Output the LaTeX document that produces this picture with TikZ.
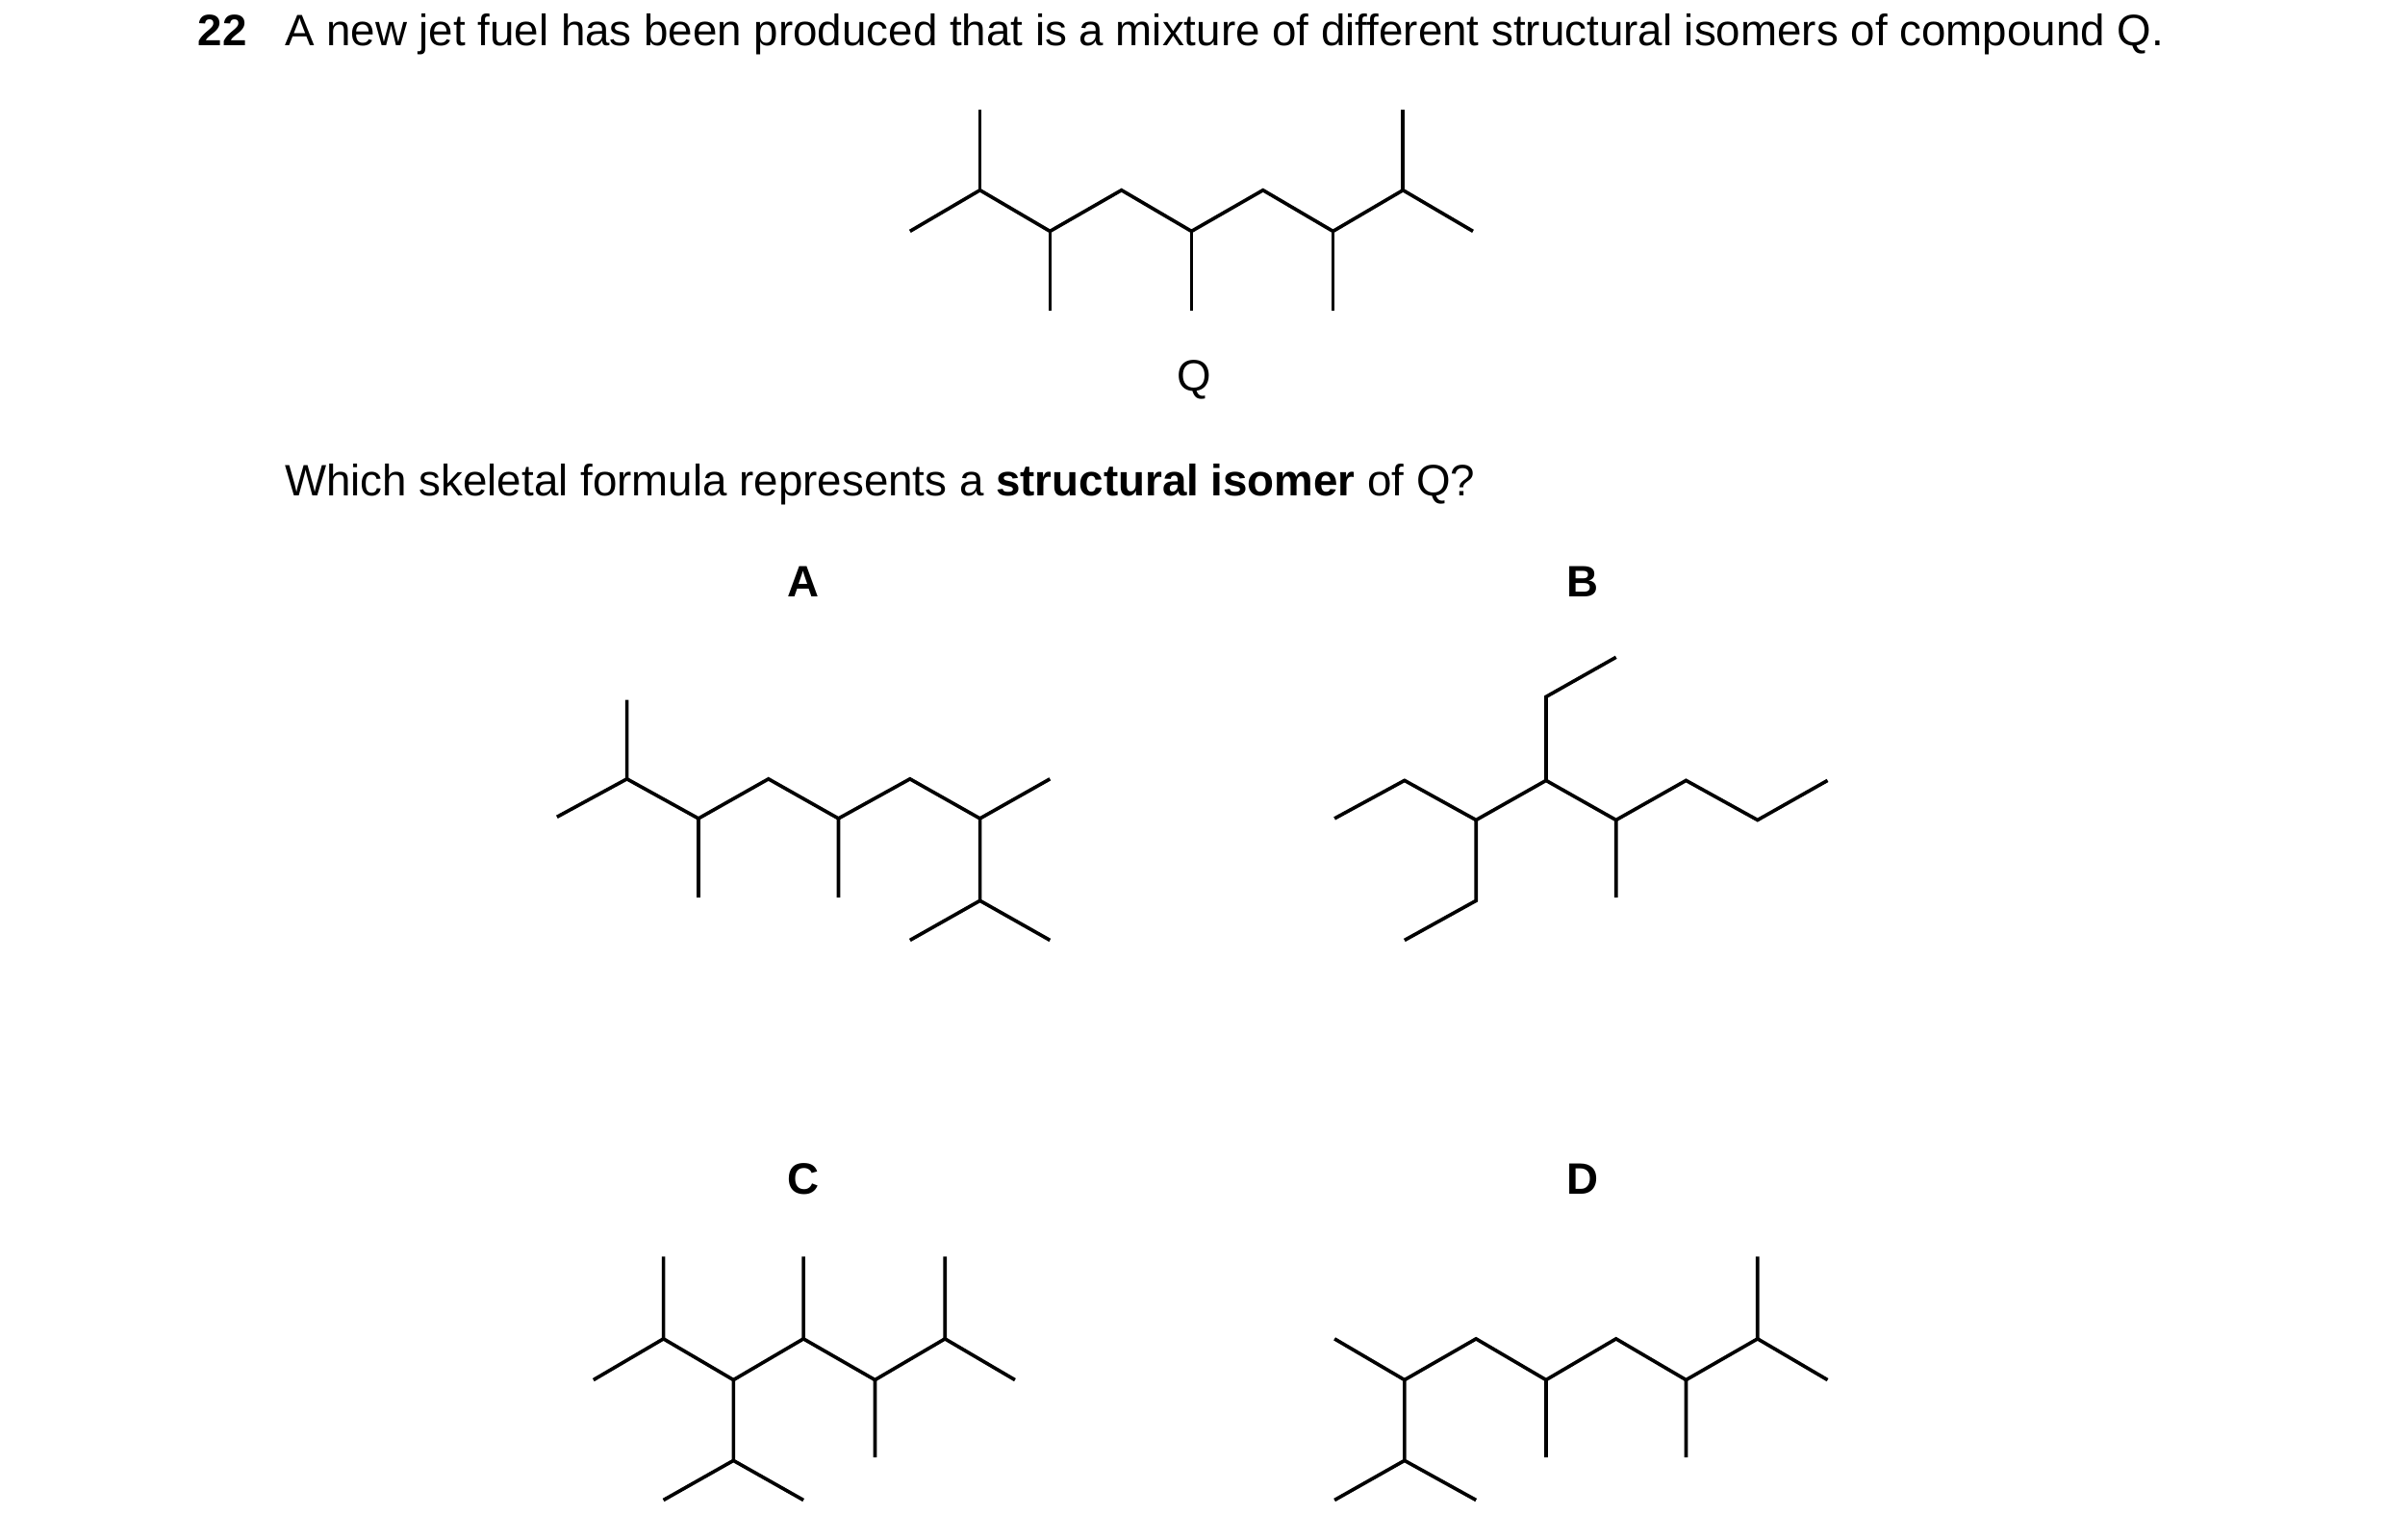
\documentclass[tikz,border=0pt]{standalone}
\usepackage{fontspec}
\setmainfont{Liberation Sans}
\begin{document}
\begin{tikzpicture}[x=1pt,y=-1pt,bond/.style={line width=2.3pt,line join=miter},
 txt/.style={anchor=base west,inner sep=0pt,font=\fontsize{28.9}{32}\selectfont},
 lab/.style={anchor=base,inner sep=0pt,font=\fontsize{28.9}{32}\selectfont\bfseries}]
\useasboundingbox (0,0) rectangle (1568,1012);
\node[txt] (num) at (130,30) {\textbf{22}};
\node[txt] (t1) at (187,30) {A new jet fuel has been produced that is a mixture of different structural isomers of compound Q.};
\node[anchor=base,inner sep=0pt,font=\fontsize{28.9}{32}\selectfont] (q) at (785,257) {Q};
\node[txt] (t2) at (187,326) {Which skeletal formula represents a \textbf{structural isomer} of Q?};
\node[lab] (la) at (528,392) {A};
\node[lab] (lb) at (1040,392) {B};
\node[lab] (lc) at (528,785) {C};
\node[lab] (ld) at (1040,785) {D};
% Q
\draw[bond] (598,152)--(644,125)--(690,152)--(737,125)--(783,152)--(830,125)--(876,152)--(922,125)--(968,152);
\draw[bond] (644,125)--(644,72) (690,152)--(690,204) (783,152)--(783,204) (876,152)--(876,204) (922,125)--(922,72);
% A
\draw[bond] (366,537)--(412,512)--(459,538)--(505,512)--(551,538)--(598,512)--(644,538)--(690,512);
\draw[bond] (412,512)--(412,460) (459,538)--(459,590) (551,538)--(551,590) (644,538)--(644,592) (598,618)--(644,592)--(690,618);
% B
\draw[bond] (877,538)--(923,513)--(970,539)--(1016,513)--(1062,539)--(1108,513)--(1155,539)--(1201,513);
\draw[bond] (1016,513)--(1016,458)--(1062,432) (970,539)--(970,592)--(923,618) (1062,539)--(1062,590);
% C
\draw[bond] (390,907)--(436,880)--(482,907)--(528,880)--(575,907)--(621,880)--(667,907);
\draw[bond] (436,880)--(436,826) (528,880)--(528,826) (621,880)--(621,826) (482,907)--(482,960) (436,986)--(482,960)--(528,986) (575,907)--(575,958);
% D
\draw[bond] (877,880)--(923,907)--(970,880)--(1016,907)--(1062,880)--(1108,907)--(1155,880)--(1201,907);
\draw[bond] (1155,880)--(1155,826) (923,907)--(923,960) (877,986)--(923,960)--(970,986) (1016,907)--(1016,958) (1108,907)--(1108,958);
\end{tikzpicture}
\end{document}
